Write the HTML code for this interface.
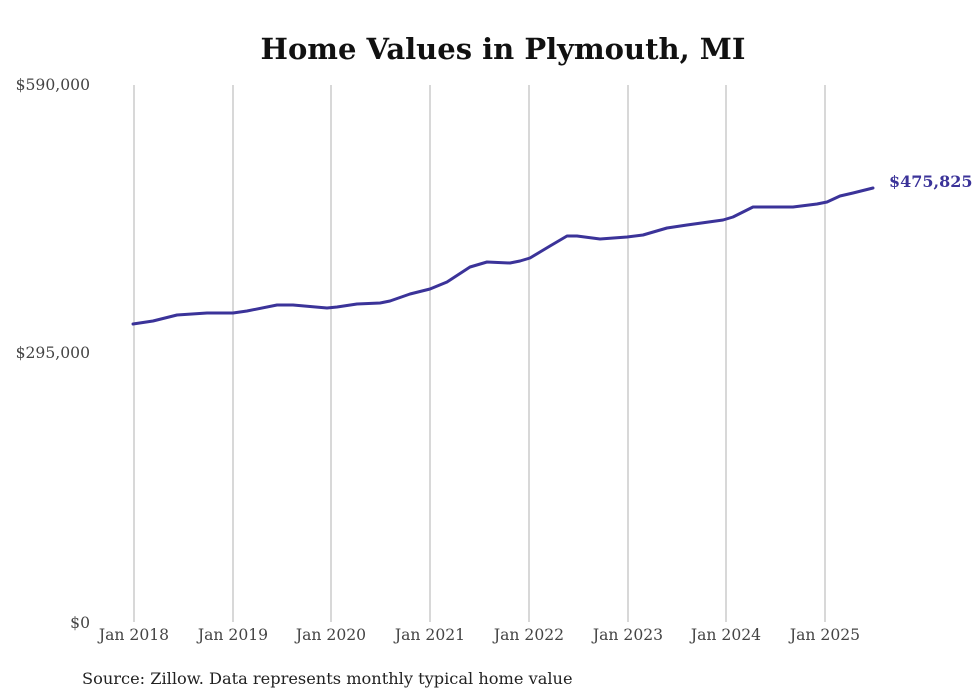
<!DOCTYPE html>
<html><head><meta charset="utf-8"><style>html,body{margin:0;padding:0;background:#fff}</style></head>
<body>
<svg width="980" height="699" xmlns="http://www.w3.org/2000/svg" style="display:block;font-family:'DejaVu Serif',serif">
<rect width="980" height="699" fill="#fff"/>
<text x="503" y="59" text-anchor="middle" font-size="29" font-weight="bold" fill="#111">Home Values in Plymouth, MI</text>
<g stroke="#b0b0b0" stroke-width="1">
<line x1="134" y1="85" x2="134" y2="622"/><line x1="233" y1="85" x2="233" y2="622"/>
<line x1="331" y1="85" x2="331" y2="622"/><line x1="430" y1="85" x2="430" y2="622"/>
<line x1="529" y1="85" x2="529" y2="622"/><line x1="628" y1="85" x2="628" y2="622"/>
<line x1="726" y1="85" x2="726" y2="622"/><line x1="825" y1="85" x2="825" y2="622"/>
</g>
<g font-size="15.6" fill="#444">
<text x="90" y="90" text-anchor="end">$590,000</text>
<text x="90" y="358" text-anchor="end">$295,000</text>
<text x="90" y="628" text-anchor="end">$0</text>
<g text-anchor="middle">
<text x="134" y="640">Jan 2018</text><text x="233" y="640">Jan 2019</text>
<text x="331" y="640">Jan 2020</text><text x="430" y="640">Jan 2021</text>
<text x="529" y="640">Jan 2022</text><text x="628" y="640">Jan 2023</text>
<text x="726" y="640">Jan 2024</text><text x="825" y="640">Jan 2025</text>
</g></g>
<polyline fill="none" stroke="#3b3399" stroke-width="3" stroke-linejoin="round" stroke-linecap="round"
points="133,324 153,321 177,315 207,313 233,313 247,311 277,305 293,305 327,308 337,307 357,304 380,303 390,301 410,294 430,289 447,282 470,267 487,262 510,263 520,261 530,258 540,252 550,246 567,236 577,236 600,239 627,237 643,235 667,228 687,225 723,220 733,217 753,207 773,207 793,207 817,204 827,202 840,196 853,193 873,188"/>
<text x="889" y="187" font-size="16" font-weight="bold" fill="#3b3399">$475,825</text>
<text x="82" y="684" font-size="16.2" fill="#222">Source: Zillow. Data represents monthly typical home value</text>
</svg>
</body></html>
